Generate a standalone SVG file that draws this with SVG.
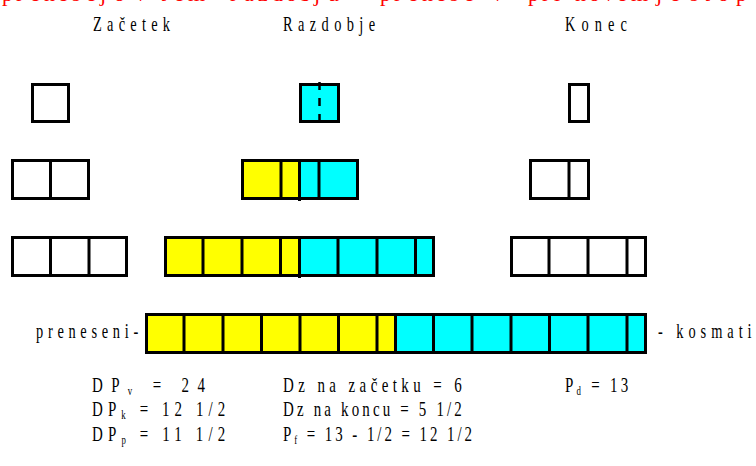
<svg xmlns="http://www.w3.org/2000/svg" width="756" height="466" viewBox="0 0 756 466">
<style>
.bg{fill:#fff}
.o{fill:none;stroke:#000;stroke-width:3}
.y{fill:#ffff00}
.c{fill:#00ffff}
.w{fill:#fff}
.d{stroke:#000;stroke-width:3}
.t{font-family:"Liberation Serif",serif;font-size:20px;fill:#000}
.b{font-family:"Liberation Serif",serif;font-size:22px;fill:#000}
.s{font-size:13px}
.red{font-family:"Liberation Serif",serif;font-size:22px;fill:#ff0000}
</style>
<rect class="bg" x="0" y="0" width="756" height="466"/>
<text class="red" y="1"><tspan x="2 16 30 44 58 72 86 100 114">prenesejo</tspan><tspan x="135">v</tspan><tspan x="160 174 188">tem</tspan><tspan x="230 244 258 272 286 300 314 328">razdobju</tspan><tspan x="380 394 408 422 436 450 464">prenese</tspan><tspan x="492">v</tspan><tspan x="528 542 554">pri</tspan><tspan x="575 589 603 617 631">novem</tspan><tspan x="656 670">je</tspan><tspan x="690 704 718 736">stop</tspan></text>
<g id="headers">
<text class="t" transform="translate(93 31) scale(0.72 1)" textLength="107" lengthAdjust="spacing">Začetek</text>
<text class="t" transform="translate(283 31) scale(0.72 1)" textLength="128" lengthAdjust="spacing">Razdobje</text>
<text class="t" transform="translate(565 31) scale(0.72 1)" textLength="86" lengthAdjust="spacing">Konec</text>
</g>
<g id="zacetek-1">
<rect class="w" x="31" y="83" width="39" height="40"/>
<rect class="o" x="32.5" y="84.5" width="36" height="37"/>
</g>
<g id="zacetek-2">
<rect class="o" x="12.5" y="160.5" width="76" height="38"/>
<line class="d" x1="50.5" y1="160" x2="50.5" y2="199"/>
</g>
<g id="zacetek-3">
<rect class="o" x="12.5" y="237.5" width="114" height="38"/>
<line class="d" x1="50.5" y1="237" x2="50.5" y2="276"/>
<line class="d" x1="89" y1="237" x2="89" y2="276"/>
</g>
<g id="razdobje-1">
<rect class="c" x="299" y="83" width="41" height="40"/>
<rect class="o" x="300.5" y="84.5" width="38" height="37"/>
<line x1="319.5" y1="82" x2="319.5" y2="122" stroke="#000" stroke-width="2.5" stroke-dasharray="8 8"/>
</g>
<g id="razdobje-2">
<rect class="y" x="241" y="159" width="58.5" height="41"/>
<rect class="c" x="299.5" y="159" width="59.5" height="41"/>
<rect class="o" x="242.5" y="160.5" width="115" height="38"/>
<line class="d" x1="281" y1="160" x2="281" y2="199"/>
<line class="d" x1="299.5" y1="160" x2="299.5" y2="201"/>
<line class="d" x1="319" y1="160" x2="319" y2="199"/>
</g>
<g id="razdobje-3">
<rect class="y" x="164" y="236" width="135.5" height="41"/>
<rect class="c" x="299.5" y="236" width="135.5" height="41"/>
<rect class="o" x="165.5" y="237.5" width="268" height="38"/>
<line class="d" x1="203" y1="237" x2="203" y2="276"/>
<line class="d" x1="242" y1="237" x2="242" y2="276"/>
<line class="d" x1="280.5" y1="237" x2="280.5" y2="276"/>
<line class="d" x1="299.5" y1="237" x2="299.5" y2="278"/>
<line class="d" x1="338" y1="237" x2="338" y2="276"/>
<line class="d" x1="377" y1="237" x2="377" y2="276"/>
<line class="d" x1="415.5" y1="237" x2="415.5" y2="276"/>
</g>
<g id="konec-1">
<rect class="o" x="569.5" y="84.5" width="19" height="37"/>
</g>
<g id="konec-2">
<rect class="o" x="530.5" y="160.5" width="58" height="38"/>
<line class="d" x1="569" y1="160" x2="569" y2="199"/>
</g>
<g id="konec-3">
<rect class="o" x="511.5" y="237.5" width="134" height="38"/>
<line class="d" x1="549" y1="237" x2="549" y2="276"/>
<line class="d" x1="588" y1="237" x2="588" y2="276"/>
<line class="d" x1="627" y1="237" x2="627" y2="276"/>
</g>
<g id="skupaj">
<rect class="y" x="145" y="313" width="250.5" height="41"/>
<rect class="c" x="395.5" y="313" width="251.5" height="41"/>
<rect class="o" x="146.5" y="314.5" width="499" height="38"/>
<line class="d" x1="184" y1="314" x2="184" y2="353"/>
<line class="d" x1="223" y1="314" x2="223" y2="353"/>
<line class="d" x1="261.5" y1="314" x2="261.5" y2="353"/>
<line class="d" x1="300" y1="314" x2="300" y2="353"/>
<line class="d" x1="338.5" y1="314" x2="338.5" y2="353"/>
<line class="d" x1="377" y1="314" x2="377" y2="353"/>
<line class="d" x1="395.5" y1="314" x2="395.5" y2="354"/>
<line class="d" x1="433.5" y1="314" x2="433.5" y2="353"/>
<line class="d" x1="472" y1="314" x2="472" y2="353"/>
<line class="d" x1="511" y1="314" x2="511" y2="353"/>
<line class="d" x1="549.5" y1="314" x2="549.5" y2="353"/>
<line class="d" x1="588" y1="314" x2="588" y2="353"/>
<line class="d" x1="627" y1="314" x2="627" y2="353"/>
</g>
<g id="labels">
<text class="t" transform="translate(36 338) scale(0.72 1)" textLength="142" lengthAdjust="spacing">preneseni-</text>
<text class="t" transform="translate(658 338) scale(0.72 1)" textLength="130" lengthAdjust="spacing">- kosmati</text>
</g>
<g id="formule">
<text class="b" transform="translate(92 392) scale(0.68 1)" textLength="166" lengthAdjust="spacing">DP<tspan class="s" dy="3">v</tspan><tspan dy="-3"> = 24</tspan></text>
<text class="b" transform="translate(92 416) scale(0.68 1)" textLength="196" lengthAdjust="spacing">DP<tspan class="s" dy="3">k</tspan><tspan dy="-3"> = 12 1/2</tspan></text>
<text class="b" transform="translate(92 441) scale(0.68 1)" textLength="196" lengthAdjust="spacing">DP<tspan class="s" dy="3">p</tspan><tspan dy="-3"> = 11 1/2</tspan></text>
<text class="b" transform="translate(283 392) scale(0.68 1)" textLength="263" lengthAdjust="spacing">Dz na začetku = 6</text>
<text class="b" transform="translate(283 416) scale(0.68 1)" textLength="263" lengthAdjust="spacing">Dz na koncu = 5 1/2</text>
<text class="b" transform="translate(283 441) scale(0.68 1)" textLength="278" lengthAdjust="spacing">P<tspan class="s" dy="3">f</tspan><tspan dy="-3"> = 13 - 1/2 = 12 1/2</tspan></text>
<text class="b" transform="translate(565 392) scale(0.68 1)" textLength="93" lengthAdjust="spacing">P<tspan class="s" dy="3">d</tspan><tspan dy="-3"> = 13</tspan></text>
</g>
</svg>
